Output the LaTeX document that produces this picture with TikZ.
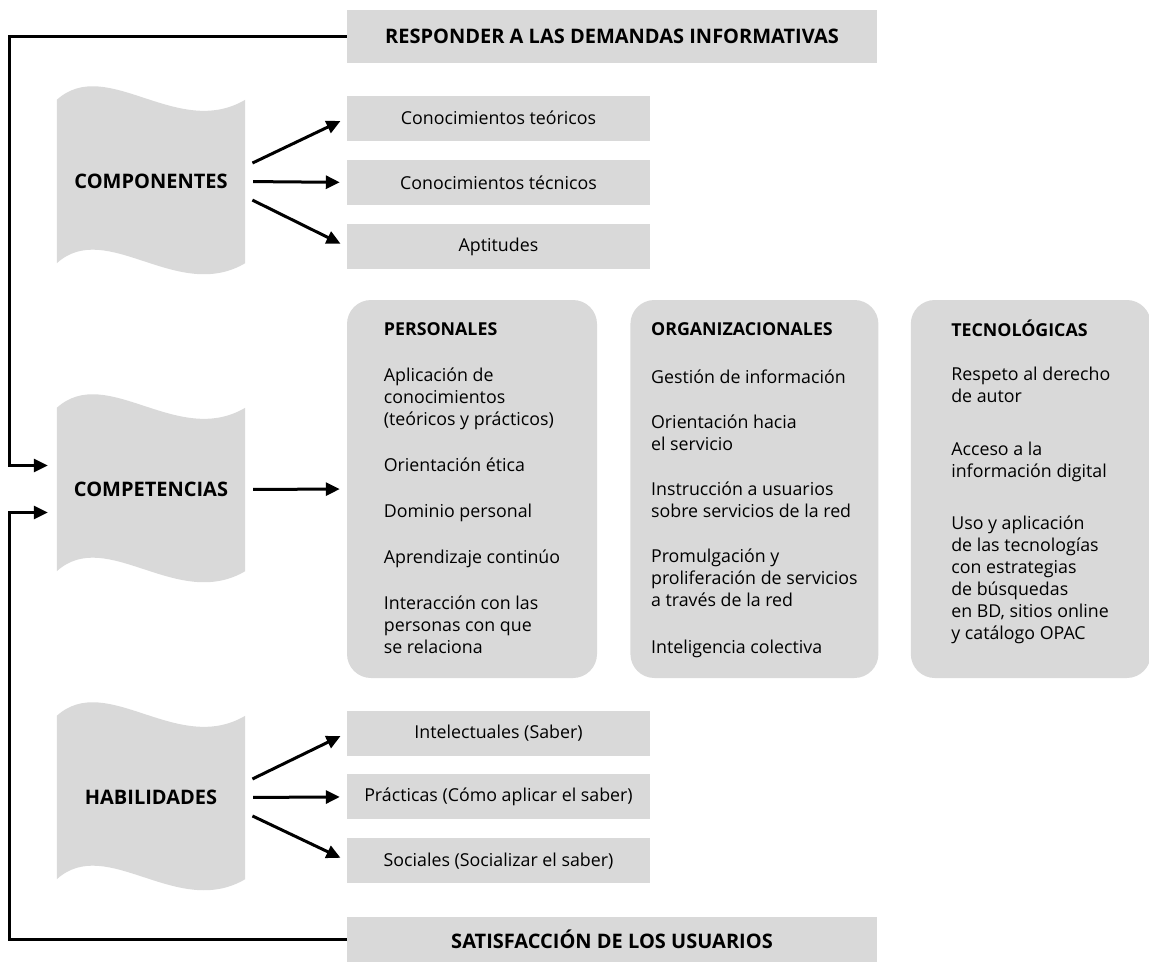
\documentclass[tikz,border=0pt]{standalone}
\usepackage{fontspec}
\setmainfont{Open Sans}
\usetikzlibrary{positioning, arrows.meta, backgrounds}
\definecolor{boxgray}{RGB}{217,217,217}

\begin{document}
\begin{tikzpicture}[x=1pt, y=1pt,
		wide/.style={fill=boxgray, minimum width=530pt, minimum height=50pt, inner sep=0pt, font=\fontsize{20}{24}\selectfont\bfseries},
		item/.style={fill=boxgray, minimum width=303pt, minimum height=45pt, inner sep=0pt, font=\fontsize{17.8}{20}\selectfont},
		flag/.style={minimum width=188pt, minimum height=163pt, inner sep=0pt, font=\fontsize{20}{24}\selectfont\bfseries},
		group/.style={fill=boxgray, rounded corners=24pt, minimum height=378pt, inner sep=0pt},
		list/.style={align=left, anchor=north, inner sep=0pt, font=\fontsize{17.8}{22}\selectfont},
		link/.style={line width=3pt, -{Triangle[length=14pt,width=13pt]}},
		arr/.style={link, shorten <=8pt, shorten >=7pt}]
		\useasboundingbox (0,0) rectangle (1149,-964);
		
		\node[wide, minimum height=53pt] (resp) at (612,-36.5) {RESPONDER A LAS DEMANDAS INFORMATIVAS};
		
		\node[flag] (comp) at (151,-181.5) {COMPONENTES};
		\node[item] (ct1) at (498.5,-118) {Conocimientos teóricos};
		\node[item, below=19pt of ct1] (ct2) {Conocimientos técnicos};
		\node[item, below=19pt of ct2] (ct3) {Aptitudes};
		\draw[arr] ([yshift=15pt]comp.east) -- (ct1.west);
		\draw[arr] (comp.east) -- (ct2.west);
		\draw[arr] ([yshift=-15pt]comp.east) -- (ct3.west);
		
		\node[flag] (compet) at (151,-489.5) {COMPETENCIAS};
		\node[group, minimum width=250pt] (pers) at (472,-489) {};
		\node[group, minimum width=248pt, right=33pt of pers] (orga) {};
		\node[group, minimum width=240pt, right=32pt of orga] (tecn) {};
		\draw[arr] (compet.east) -- (pers.west);
		
		\node[list] (perst) at ([yshift=-20pt]pers.north) {\strut\textbf{PERSONALES}\\[24pt]
			Aplicación de\\ conocimientos\\ (teóricos y prácticos)\\[24pt]
			Orientación ética\\[24pt]
			Dominio personal\\[24pt]
			Aprendizaje continúo\\[24pt]
			Interacción con las\\ personas con que\\ se relaciona};
		\node[list] (orgat) at ([yshift=-20pt]orga.north) {\strut\textbf{ORGANIZACIONALES}\\[26pt]
			Gestión de información\\[23pt]
			Orientación hacia\\ el servicio\\[23pt]
			Instrucción a usuarios\\ sobre servicios de la red\\[23pt]
			Promulgación y\\ proliferación de servicios\\ a través de la red\\[25pt]
			Inteligencia colectiva};
		\node[list] (tecnt) at ([yshift=-20pt]tecn.north) {\strut\textbf{TECNOLÓGICAS}\\[22pt]
			Respeto al derecho\\ de autor\\[31pt]
			Acceso a la\\ información digital\\[30pt]
			Uso y aplicación\\ de las tecnologías\\ con estrategias\\ de búsquedas\\ en BD, sitios online\\ y catálogo OPAC};
		
		\node[flag] (habil) at (151,-797.5) {HABILIDADES};
		\node[item] (hb1) at (498.5,-733) {Intelectuales (Saber)};
		\node[item, below=18.5pt of hb1] (hb2) {Prácticas (Cómo aplicar el saber)};
		\node[item, below=18.5pt of hb2] (hb3) {Sociales (Socializar el saber)};
		\draw[arr] ([yshift=15pt]habil.east) -- (hb1.west);
		\draw[arr] (habil.east) -- (hb2.west);
		\draw[arr] ([yshift=-15pt]habil.east) -- (hb3.west);
		
		\node[wide, minimum height=45pt] (sat) at (612,-939.5) {SATISFACCIÓN DE LOS USUARIOS};
		
		% feedback lines
		\draw[link] (resp.west) -- ++(-337,0) |- ([xshift=-9pt, yshift=24pt]compet.west);
		\draw[link] (sat.west) -- ++(-337,0) |- ([xshift=-9pt, yshift=-23pt]compet.west);
		
		% wavy flags
		\begin{scope}[on background layer]
			\foreach \n in {comp, compet, habil}
			\fill[boxgray] (\n.north west) .. controls +(50,45) and +(-68,-40) .. (\n.north east)
				-- (\n.south east) .. controls +(-68,-40) and +(50,45) .. (\n.south west) -- cycle;
		\end{scope}
	\end{tikzpicture}
\end{document}
